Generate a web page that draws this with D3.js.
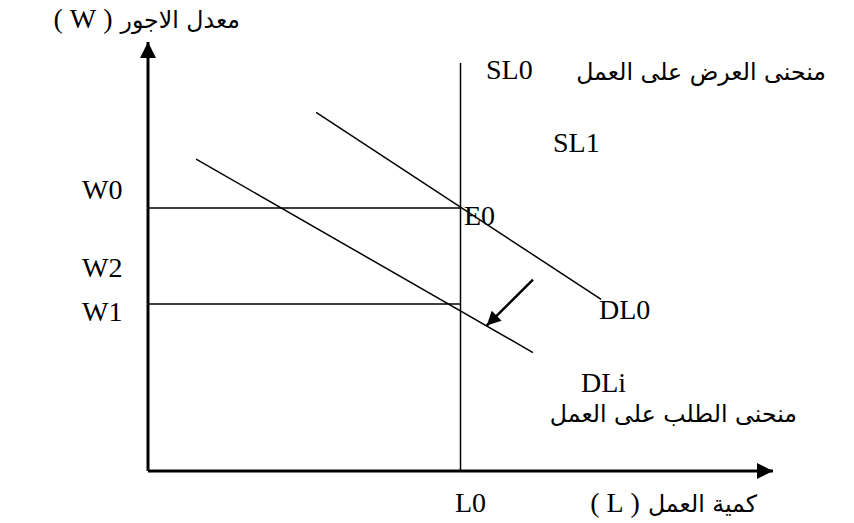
<!DOCTYPE html>
<html><head><meta charset="utf-8">
<script src="https://cdn.jsdelivr.net/npm/d3@7"></script>
<style>
body{margin:0;background:#fff;}
.lat{font-family:"Liberation Serif","Times New Roman",serif;font-size:28px;fill:#000;}
.ar{font-family:"DejaVu Sans",sans-serif;font-size:22px;fill:#000;}
</style></head>
<body><svg id="c" width="854" height="523"></svg>
<script>
// Data (chart units 0-100 on both axes)
const L0 = 50;
const wageLevels = [{name:"W0", w:61.3}, {name:"W1", w:38.9}];
const wageTickLabels = ["W0","W2","W1"];
const wageTickValues = [65.5, 47.3, 37];
const supplyTop = 95.1;
const demandDL0 = [[26.9,83.6],[72.5,40.0]];
const demandDLi = [[7.7,72.7],[61.6,27.6]];
const shiftArrow = [[61.6,44.6],[54.2,33.9]];

const svg = d3.select("#c");
const x = d3.scaleLinear().domain([0,100]).range([148,773]);
const y = d3.scaleLinear().domain([0,100]).range([471,42]);

const defs = svg.append("defs");
defs.append("marker").attr("id","ah").attr("viewBox","0 0 10 10").attr("refX",10).attr("refY",5)
  .attr("markerWidth",16).attr("markerHeight",16).attr("markerUnits","userSpaceOnUse").attr("orient","auto")
  .append("path").attr("d","M0,0L10,5L0,10Z").attr("fill","#000");
defs.append("marker").attr("id","ah2").attr("viewBox","0 0 10 10").attr("refX",10).attr("refY",5)
  .attr("markerWidth",16).attr("markerHeight",14).attr("markerUnits","userSpaceOnUse").attr("orient","auto")
  .append("path").attr("d","M0,0L10,5L0,10Z").attr("fill","#000");

const line = d3.line().x(d=>x(d[0])).y(d=>y(d[1]));

// axes
svg.append("path").attr("d",line([[0,0],[0,100]])).attr("stroke","#000").attr("stroke-width",3).attr("fill","none").attr("marker-end","url(#ah)");
svg.append("path").attr("d",line([[0,0],[100,0]])).attr("stroke","#000").attr("stroke-width",3).attr("fill","none").attr("marker-end","url(#ah)");

// supply line
svg.append("path").attr("d",line([[L0,0],[L0,supplyTop]])).attr("stroke","#000").attr("stroke-width",1.5).attr("fill","none");
// wage lines
svg.selectAll(".wl").data(wageLevels).enter().append("path")
  .attr("d",d=>line([[0,d.w],[L0,d.w]])).attr("stroke","#000").attr("stroke-width",1.5).attr("fill","none");
// demand lines
[demandDL0, demandDLi].forEach(dd=>{
  svg.append("path").attr("d",line(dd)).attr("stroke","#000").attr("stroke-width",1.5).attr("fill","none");
});
svg.append("path").attr("d",line(shiftArrow)).attr("stroke","#000").attr("stroke-width",2.5).attr("fill","none").attr("marker-end","url(#ah2)");

// labels
svg.selectAll(".wt").data(wageTickLabels).enter().append("text").attr("class","lat")
  .attr("x",82).attr("y",(d,i)=>y(wageTickValues[i])+9).text(d=>d);

function lat(t,px,py){svg.append("text").attr("class","lat").attr("x",px).attr("y",py).text(t);}
// fit reference Arabic size once
const probe = svg.append("text").attr("class","ar").attr("direction","rtl").text("منحنى العرض على العمل");
const arSize = 22*250/probe.node().getComputedTextLength();
probe.remove();
function ar(t,px,py,latin){
  const el = svg.append("text").attr("class","ar").attr("x",px).attr("y",py)
    .attr("text-anchor","start").attr("direction","rtl").style("font-size",arSize+"px").text(t);
  if (latin){
    const w = el.node().getComputedTextLength();
    svg.append("text").attr("class","lat").style("font-size","28px").attr("x",px-w-8).attr("y",py)
      .attr("text-anchor","end").text(latin);
  }
}
lat("SL0",486,79);
lat("SL1",553,152);
lat("E0",464,225);
lat("DL0",599,319);
lat("DLi",581,392);
lat("L0",455,512);
ar("منحنى العرض على العمل",826,80);
ar("منحنى الطلب على العمل",797,422);
ar("كمية العمل",757,512,"(\u00a0L\u00a0)");
ar("معدل الاجور",240,28,"(\u00a0W\u00a0)");
</script></body></html>
